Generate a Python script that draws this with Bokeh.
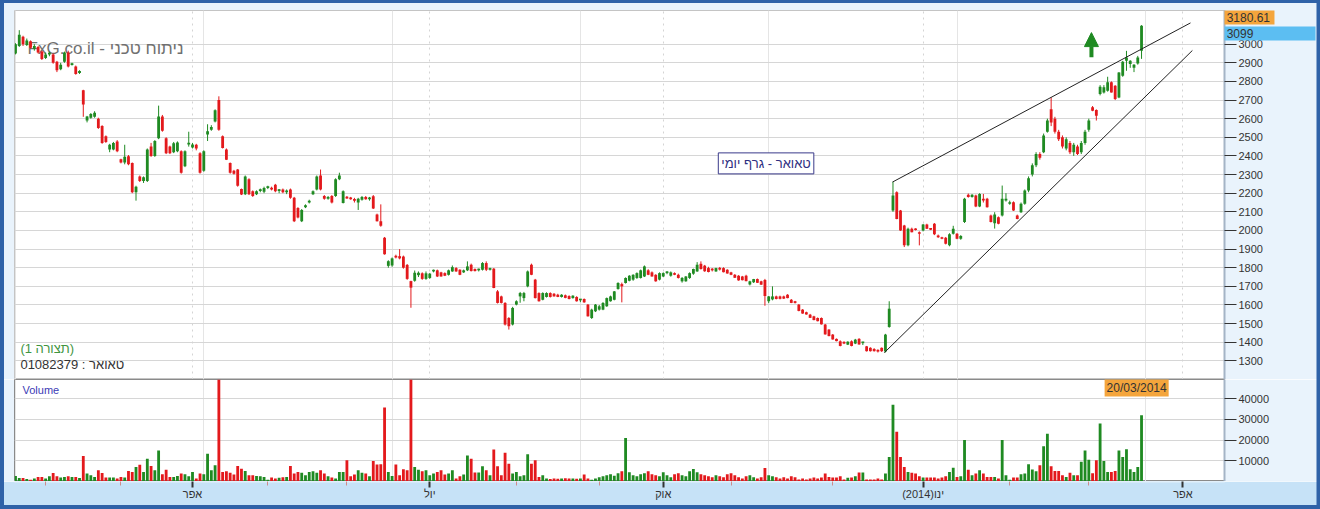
from bokeh.plotting import figure
from bokeh.layouts import column
from bokeh.models import (Range1d, FixedTicker, Grid, Label, Arrow, NormalHead, ColumnDataSource)
from bokeh.core.properties import value
from bokeh.embed import file_html
from bokeh.resources import INLINE

# ---------------- DATA (open, high, low, close) per period ----------------
seg_jan_feb = [
    (2950, 3005, 2945, 3000), (2990, 3075, 2985, 3050), (3040, 3045, 2990, 3000), (2995, 3030, 2990, 3020),
    (3015, 3020, 2975, 2980), (2975, 3000, 2965, 2990), (2985, 2990, 2950, 2955), (2960, 2965, 2915, 2920),
    (2925, 2955, 2920, 2945), (2945, 2960, 2935, 2950), (2945, 2950, 2895, 2900), (2905, 2910, 2850, 2860),
    (2865, 2900, 2860, 2890), (2905, 2960, 2900, 2955), (2955, 2965, 2875, 2880), (2888, 2900, 2885, 2898),
    (2880, 2885, 2836, 2840), (2845, 2860, 2840, 2856),
]
seg_feb_apr = [
    (2752, 2755, 2610, 2676), (2590, 2615, 2580, 2612), (2605, 2630, 2600, 2625), (2610, 2640, 2605, 2632),
    (2600, 2605, 2545, 2550), (2560, 2565, 2465, 2470), (2505, 2510, 2470, 2475), (2435, 2465, 2420, 2460),
    (2435, 2475, 2430, 2470), (2478, 2485, 2420, 2425), (2382, 2385, 2360, 2365), (2365, 2460, 2355, 2395),
    (2398, 2405, 2350, 2355), (2362, 2365, 2200, 2205), (2205, 2240, 2160, 2235), (2290, 2295, 2260, 2265),
    (2265, 2290, 2255, 2285), (2265, 2440, 2260, 2435), (2450, 2470, 2395, 2400), (2400, 2485, 2395, 2480),
    (2495, 2670, 2490, 2612), (2612, 2620, 2530, 2535), (2495, 2500, 2410, 2415), (2450, 2455, 2410, 2415),
    (2420, 2475, 2415, 2468), (2425, 2478, 2420, 2472), (2425, 2430, 2305, 2310), (2345, 2430, 2340, 2425),
    (2462, 2530, 2450, 2470), (2445, 2470, 2440, 2462), (2460, 2465, 2430, 2440), (2415, 2420, 2305, 2310),
    (2320, 2430, 2315, 2425), (2515, 2570, 2480, 2532), (2540, 2565, 2535, 2555), (2585, 2650, 2580, 2645),
    (2700, 2720, 2535, 2540),
]
seg_apr_jul = [
    (2505, 2510, 2440, 2443), (2434, 2440, 2378, 2380), (2362, 2365, 2305, 2310), (2320, 2325, 2300, 2305),
    (2327, 2330, 2235, 2240), (2222, 2225, 2190, 2193), (2195, 2295, 2190, 2290), (2275, 2280, 2190, 2195),
    (2210, 2215, 2180, 2185), (2195, 2215, 2190, 2210), (2212, 2225, 2205, 2220), (2208, 2235, 2200, 2228),
    (2228, 2240, 2222, 2236), (2228, 2235, 2215, 2220), (2245, 2250, 2205, 2210), (2212, 2222, 2200, 2216),
    (2220, 2225, 2200, 2205), (2205, 2220, 2195, 2215), (2220, 2225, 2170, 2175), (2175, 2180, 2045, 2050),
    (2120, 2125, 2065, 2070), (2050, 2115, 2045, 2110), (2125, 2140, 2120, 2135), (2150, 2165, 2145, 2160),
    (2195, 2215, 2190, 2210), (2220, 2295, 2215, 2290), (2295, 2327, 2215, 2220), (2185, 2190, 2165, 2170),
    (2170, 2185, 2165, 2180), (2185, 2190, 2145, 2150), (2185, 2280, 2180, 2275), (2275, 2310, 2270, 2295),
    (2148, 2215, 2145, 2211), (2180, 2185, 2170, 2172), (2175, 2180, 2165, 2168), (2168, 2175, 2150, 2160),
    (2150, 2175, 2110, 2170), (2165, 2185, 2160, 2180), (2180, 2185, 2165, 2168), (2168, 2180, 2160, 2175),
    (2184, 2190, 2115, 2118), (2086, 2090, 2048, 2050), (2050, 2140, 2020, 2025), (1961, 1965, 1870, 1872),
    (1810, 1840, 1800, 1835), (1812, 1855, 1805, 1850), (1862, 1870, 1850, 1855), (1862, 1900, 1845, 1850),
    (1860, 1865, 1795, 1800), (1815, 1820, 1735, 1740), (1728, 1730, 1585, 1693), (1730, 1785, 1725, 1773),
    (1760, 1780, 1750, 1773), (1770, 1775, 1735, 1740), (1740, 1780, 1735, 1770),
]
seg_jul_dec = [
    (1745, 1772, 1740, 1768), (1780, 1790, 1775, 1786), (1786, 1790, 1750, 1753), (1775, 1778, 1752, 1753),
    (1771, 1775, 1755, 1757), (1762, 1790, 1758, 1786), (1780, 1812, 1778, 1803), (1798, 1803, 1778, 1780),
    (1789, 1792, 1760, 1762), (1775, 1790, 1772, 1786), (1786, 1834, 1782, 1807), (1816, 1822, 1780, 1782),
    (1793, 1796, 1780, 1782), (1786, 1795, 1780, 1793), (1789, 1830, 1785, 1825), (1825, 1834, 1782, 1789),
    (1789, 1800, 1785, 1795), (1795, 1798, 1690, 1691), (1673, 1680, 1608, 1611), (1646, 1650, 1608, 1611),
    (1611, 1615, 1490, 1495), (1530, 1535, 1468, 1486), (1495, 1590, 1490, 1584), (1602, 1625, 1598, 1620),
    (1646, 1670, 1612, 1664), (1637, 1670, 1620, 1664), (1700, 1785, 1695, 1780), (1816, 1822, 1760, 1762),
    (1736, 1740, 1635, 1637), (1664, 1668, 1618, 1620), (1628, 1668, 1625, 1664), (1643, 1668, 1640, 1664),
    (1664, 1668, 1640, 1643), (1660, 1664, 1645, 1646), (1655, 1660, 1642, 1643), (1643, 1658, 1640, 1655),
    (1652, 1656, 1636, 1638), (1648, 1652, 1630, 1632), (1637, 1652, 1634, 1650), (1643, 1647, 1618, 1620),
    (1625, 1632, 1615, 1628), (1632, 1635, 1612, 1614), (1602, 1605, 1538, 1539), (1530, 1580, 1525, 1575),
    (1566, 1605, 1562, 1602), (1575, 1600, 1570, 1593), (1575, 1615, 1572, 1611), (1593, 1640, 1590, 1637),
    (1620, 1650, 1618, 1646), (1628, 1675, 1625, 1673), (1686, 1722, 1682, 1718), (1712, 1720, 1614, 1700),
    (1718, 1748, 1715, 1745), (1730, 1760, 1727, 1757), (1736, 1765, 1730, 1762), (1745, 1775, 1740, 1771),
    (1745, 1790, 1742, 1786), (1753, 1812, 1750, 1807), (1786, 1792, 1760, 1762), (1775, 1780, 1752, 1753),
    (1762, 1765, 1725, 1727), (1736, 1775, 1732, 1771), (1753, 1775, 1750, 1771), (1771, 1782, 1765, 1778),
    (1757, 1780, 1752, 1775), (1768, 1775, 1760, 1762), (1762, 1768, 1742, 1745), (1727, 1750, 1720, 1745),
    (1727, 1755, 1725, 1753), (1745, 1775, 1740, 1771), (1768, 1795, 1762, 1793), (1780, 1830, 1778, 1816),
    (1821, 1834, 1790, 1793), (1811, 1815, 1778, 1781), (1798, 1805, 1775, 1777), (1793, 1798, 1780, 1786),
    (1780, 1800, 1778, 1798), (1798, 1804, 1785, 1790), (1798, 1802, 1775, 1776), (1789, 1792, 1768, 1769),
    (1775, 1778, 1760, 1762), (1762, 1766, 1745, 1746), (1757, 1760, 1730, 1732), (1753, 1756, 1732, 1733),
    (1757, 1762, 1727, 1728), (1710, 1730, 1705, 1727), (1722, 1740, 1718, 1739), (1739, 1742, 1718, 1719),
    (1727, 1730, 1708, 1709), (1734, 1740, 1596, 1648), (1620, 1648, 1610, 1646), (1630, 1700, 1625, 1646),
    (1646, 1650, 1630, 1632), (1646, 1650, 1630, 1633), (1646, 1650, 1632, 1634), (1655, 1658, 1636, 1637),
    (1628, 1632, 1610, 1611), (1620, 1622, 1608, 1611), (1602, 1605, 1566, 1568), (1575, 1578, 1553, 1554),
    (1561, 1564, 1548, 1549), (1548, 1552, 1530, 1531), (1539, 1542, 1518, 1519), (1530, 1533, 1512, 1513),
    (1530, 1533, 1495, 1496), (1495, 1498, 1441, 1442), (1468, 1470, 1432, 1433), (1441, 1444, 1414, 1415),
    (1418, 1420, 1405, 1406), (1405, 1410, 1378, 1380), (1400, 1405, 1390, 1393), (1387, 1405, 1385, 1403),
    (1405, 1410, 1378, 1380), (1393, 1418, 1390, 1414), (1418, 1422, 1387, 1388), (1395, 1402, 1385, 1398),
    (1378, 1380, 1350, 1352), (1370, 1373, 1350, 1352), (1364, 1368, 1350, 1352), (1356, 1362, 1345, 1350),
    (1370, 1372, 1348, 1352), (1350, 1445, 1345, 1441), (1482, 1620, 1478, 1580),
]
seg_dec_mar = [
    (2107, 2262, 2100, 2188), (2205, 2210, 2060, 2062), (2107, 2110, 1998, 2000), (2027, 2030, 1911, 1920),
    (1920, 2015, 1915, 2009), (2009, 2015, 1990, 1991), (2009, 2012, 2000, 2002), (1991, 1995, 1920, 1982),
    (2000, 2035, 1995, 2032), (2032, 2036, 2008, 2009), (2009, 2012, 2002, 2004), (2036, 2040, 1975, 1979),
    (1973, 1978, 1960, 1964), (1964, 1966, 1953, 1955), (1961, 1965, 1925, 1929), (1920, 1985, 1915, 1979),
    (1982, 2025, 1978, 2009), (1982, 1986, 1953, 1955), (1955, 1975, 1950, 1970), (2045, 2175, 2040, 2170),
    (2191, 2198, 2176, 2179), (2179, 2195, 2176, 2191), (2187, 2192, 2125, 2129), (2129, 2200, 2125, 2196),
    (2170, 2196, 2150, 2161), (2170, 2175, 2123, 2125), (2080, 2085, 2043, 2045), (2039, 2098, 2010, 2086),
    (2071, 2075, 2033, 2036), (2080, 2241, 2075, 2170), (2161, 2200, 2155, 2170), (2143, 2160, 2138, 2152),
    (2152, 2156, 2105, 2107), (2080, 2085, 2060, 2062), (2098, 2150, 2094, 2143), (2143, 2220, 2138, 2214),
    (2214, 2290, 2205, 2280), (2300, 2360, 2290, 2350), (2350, 2420, 2340, 2410), (2410, 2420, 2380, 2390),
    (2420, 2520, 2415, 2510), (2530, 2600, 2525, 2590), (2650, 2714, 2560, 2580), (2600, 2610, 2520, 2530),
    (2530, 2540, 2480, 2490), (2500, 2510, 2440, 2450), (2440, 2500, 2430, 2490), (2470, 2480, 2410, 2420),
    (2420, 2470, 2400, 2460), (2450, 2460, 2405, 2410), (2420, 2480, 2410, 2470), (2470, 2540, 2460, 2530),
    (2540, 2600, 2530, 2590), (2661, 2668, 2640, 2643), (2646, 2650, 2590, 2616), (2732, 2780, 2725, 2771),
    (2741, 2780, 2735, 2768), (2750, 2825, 2745, 2795), (2795, 2800, 2740, 2741), (2777, 2780, 2700, 2705),
    (2714, 2850, 2710, 2848), (2830, 2910, 2825, 2905), (2911, 2964, 2857, 2928), (2893, 2914, 2873, 2911),
    (2873, 2893, 2850, 2889), (2896, 2937, 2890, 2928), (2964, 3102, 2921, 3099),
]

vol_jan_feb = [2700, 1700, 1700, 1200, 900, 1400, 2200, 2200, 1400, 2500, 4100, 2500, 1900, 2200, 2500, 2200, 2200, 1700]
vol_feb_apr = [12300, 3800, 3000, 2200, 5400, 4100, 1900, 1900, 1900, 1400,
               2200, 1900, 5100, 4600, 7000, 8100, 4600, 11000, 7500, 5400,
               15000, 3500, 5700, 2200, 2200, 2700, 3800, 3500, 2500, 4600,
               1400, 3800, 3500, 13400, 5400, 7800, 60000]
vol_apr_jul = [4600, 5000, 4200, 3400, 7500, 6200, 5100, 3000, 3000, 2700,
               2500, 2200, 900, 1900, 1400, 1800, 2000, 2200, 7500, 3800,
               4600, 4200, 3000, 4600, 5000, 4200, 5400, 3800, 2500, 1900,
               1400, 4600, 4600, 10200, 2500, 3400, 5400, 4200, 3800, 2500,
               9900, 8200, 8300, 35700, 4600, 2700, 8200, 3000, 5900, 5400,
               60000, 7000, 5700, 4900, 5400]
vol_jul_dec = [3000, 3800, 4600, 5400, 3400, 3800, 5400, 1400, 2500, 3400,
               12600, 11000, 4300, 4300, 7400, 5400, 3000, 15400, 7400, 3000,
               13900, 8600, 3800, 4600, 2500, 3000, 13100, 8600, 10200, 2200,
               3000, 1400, 1200, 1500, 1300, 1400, 1600, 1400, 1500, 1300,
               1400, 3400, 1400, 900, 1400, 2000,
               2500, 3000, 3500, 2800, 4000, 5000, 21000, 4500, 3000, 2500,
               3500, 4000, 5000, 3500, 3000, 2500, 4500, 3000, 2000, 3500,
               4000, 3000, 2500, 5000, 6000, 4500, 3500, 3000, 2500, 2000,
               3000, 2500, 2000, 3500, 4000, 3000, 2000, 1500, 2500, 3000,
               2000, 1500, 2000, 6500, 3000, 2500, 2000, 1500, 2000, 1500,
               2500, 2000,
               1000, 1400, 1000, 1400, 1900, 1400, 1900, 3800, 2200, 1900,
               1900, 2500, 1000, 1800, 1900, 2500, 4300, 4300, 1000, 1000,
               1000, 1500, 1000, 3800, 11800]
vol_dec_mar = [37000, 24000, 11800, 7000, 4600, 4200, 3800, 2500, 1900, 1900,
               1900, 1900, 1400, 1900, 2500, 4600, 6600, 2200, 2500, 20000,
               5700, 3000, 3800, 5400, 3800, 2200, 2200, 2200, 1400, 20000,
               3000, 900, 1900, 1900, 3500, 3800, 8300, 5800, 5000, 7800,
               17000, 23000, 7400, 5100, 5100, 3000, 2200, 4200, 3000, 3000,
               9500, 15000, 10500, 4000, 10200, 28000, 9900, 4600, 4600, 5100,
               15000, 11800, 15500, 5900, 4600, 7000, 32000]

# month ticks on the trading-day index
major_ticks = [47, 110, 172, 241, 310]
major_labels = ["אפר", "יול", "אוק", "(2014)ינו", "אפר"]
minor_ticks = [8, 28, 67, 88, 133, 155, 190, 217, 264, 285]
price_ticks = list(range(1200, 3001, 100))
volume_ticks = [0, 10000, 20000, 30000, 40000]

# trend lines (index, price)
upper_line_x = [232.9, 312.0]
upper_line_y = [2260, 3114]
lower_line_x = [230.7, 312.5]
lower_line_y = [1344, 2966]

price_top = 3180.61
last_close = 3099
last_date = "20/03/2014"

# ---------------- BUILD ----------------
GREEN = "#1f8a22"
RED = "#e3191c"
FRAME = "#2f62a8"
FONT = "Liberation Sans"

candles = seg_jan_feb + seg_feb_apr + seg_apr_jul + seg_jul_dec + seg_dec_mar
vols = vol_jan_feb + vol_feb_apr + vol_apr_jul + vol_jul_dec + vol_dec_mar
n = len(candles)
xs = list(range(n))
o = [c[0] for c in candles]
h = [c[1] for c in candles]
l = [c[2] for c in candles]
cl = [c[3] for c in candles]
cols = [GREEN if cc >= oo else RED for oo, cc in zip(o, cl)]
bbot = [min(a, b) for a, b in zip(o, cl)]
btop = [max(max(a, b), min(a, b) + 9) for a, b in zip(o, cl)]
src = ColumnDataSource(dict(x=xs, o=o, h=h, l=l, c=cl, col=cols, bt=btop, bb=bbot, vol=vols[:n]))

X0, X1 = -0.266, 321.03
PX = (X1 - X0) / 1210.0          # index units per screen pixel
xr = Range1d(X0, X1)
W = 1320
common = dict(width=W, x_range=xr, output_backend="svg", toolbar_location=None,
              min_border_left=14, min_border_right=96)


def page_x(px):
    return X0 + (px - 14) * PX


def frame_edges(fig, y_lo, y_hi, top=None, bottom=None):
    """dark blue window frame drawn in the figure's margins"""
    lefts = [page_x(-2), page_x(1316)]
    rights = [page_x(3.5), page_x(1322)]
    tops = [y_hi, y_hi]
    bottoms = [y_lo, y_lo]
    if top is not None:
        lefts.append(page_x(-2)); rights.append(page_x(1322)); tops.append(y_hi); bottoms.append(top)
    if bottom is not None:
        lefts.append(page_x(-2)); rights.append(page_x(1322)); tops.append(bottom); bottoms.append(y_lo)
    r = fig.quad(left=lefts, right=rights, top=tops, bottom=bottoms, fill_color=FRAME, line_color=None)
    r.level = "overlay"


# ---------- price panel ----------
p = figure(height=379, y_range=Range1d(1200, price_top), x_axis_location=None, y_axis_location="right",
           min_border_top=10, min_border_bottom=0, background_fill_color="white",
           border_fill_color="#e9f3fc", outline_line_color="#c4c4c4", **common)
p.yaxis.ticker = FixedTicker(ticks=price_ticks)
p.yaxis.major_label_overrides = {1200: ""}
p.yaxis.major_tick_out = 12
p.yaxis.major_tick_in = 0
p.yaxis.minor_tick_line_color = None
p.yaxis.major_tick_line_color = "#333333"
p.yaxis.axis_line_color = "#a4b4c6"
p.yaxis.axis_line_width = 2
p.yaxis.major_label_text_font = FONT
p.yaxis.major_label_text_font_size = "11px"
p.yaxis.major_label_text_color = "#333333"
p.yaxis.major_label_standoff = 2
p.ygrid.ticker = FixedTicker(ticks=price_ticks)
p.ygrid.grid_line_color = "#d6d6d6"
p.add_layout(Grid(dimension=0, ticker=FixedTicker(ticks=major_ticks), grid_line_color="#d4d4d4",
                  grid_line_dash="dotted"))

wm = Label(x=3.2, y=2979, text="FxG.co.il - ניתוח טכני", text_font=FONT, text_font_size="17px",
           text_color="#707070", text_baseline="middle", level="underlay")
p.add_layout(wm)

p.segment(x0="x", y0="l", x1="x", y1="h", line_color="col", line_width=1, source=src)
p.vbar(x="x", top="bt", bottom="bb", width=0.75, fill_color="col", line_color=None, source=src)

p.line(upper_line_x, upper_line_y, line_color="#222222", line_width=1)
p.line(lower_line_x, lower_line_y, line_color="#222222", line_width=1)

p.add_layout(Arrow(end=NormalHead(size=14, fill_color=GREEN, line_color=GREEN),
                   x_start=285.7, y_start=2930, x_end=285.7, y_end=3062,
                   line_color=GREEN, line_width=4))

p.add_layout(Label(x=199.3, y=2360, text="טאואר - גרף יומי", text_font=FONT, text_font_size="13px",
                   text_color="#2e2e80", text_align="center", text_baseline="middle",
                   background_fill_color="white", border_line_color="#3a3a8a", border_line_width=1,
                   padding=3))
p.add_layout(Label(x=1.3, y=1366, text="(1 תצורה)", text_font=FONT, text_font_size="13px",
                   text_color="#3f953f", text_baseline="middle"))
p.add_layout(Label(x=1.3, y=1278, text="01082379 : טאואר", text_font=FONT, text_font_size="13px",
                   text_color="#333333", text_baseline="middle"))

# value tags beside the price axis (top of scale and last close)
tag_left = [X1, X1]
tag_right = [334.3, 345.2]
tag_top = [price_top, 3094.8]
tag_bottom = [3105.5, 3019.7]
tag_colors = ["#f4a53c", "#5cbef2"]
rq = p.quad(left=tag_left, right=tag_right, top=tag_top, bottom=tag_bottom,
            fill_color=tag_colors, line_color=None)
rq.level = "overlay"
rt = p.text(x=[321.6, 321.6], y=[3143, 3057], text=[f"{price_top:.2f}", f"{last_close}"],
            text_font=value(FONT), text_font_size="12px", text_color="#333333", text_baseline="middle")
rt.level = "overlay"
# window frame: price panel spans page y 0..379 -> price 3234..1200 (0.18646 px per unit)
frame_edges(p, 1150, 3260, top=price_top + 7.5 / 0.18646)

# ---------- volume panel ----------
v = figure(height=102, y_range=Range1d(0, 49200), x_axis_location=None, y_axis_location="right",
           min_border_top=0, min_border_bottom=0, background_fill_color="white",
           border_fill_color="#e9f3fc", outline_line_color="#8a8a8a", **common)
v.yaxis.ticker = FixedTicker(ticks=volume_ticks)
v.yaxis.major_label_overrides = {0: "", 10000: "10000", 20000: "20000", 30000: "30000", 40000: "40000"}
v.yaxis.major_tick_out = 12
v.yaxis.major_tick_in = 0
v.yaxis.minor_tick_line_color = None
v.yaxis.major_tick_line_color = "#333333"
v.yaxis.axis_line_color = "#a4b4c6"
v.yaxis.axis_line_width = 2
v.yaxis.major_label_text_font = FONT
v.yaxis.major_label_text_font_size = "11px"
v.yaxis.major_label_text_color = "#333333"
v.yaxis.major_label_standoff = 2
v.ygrid.ticker = FixedTicker(ticks=volume_ticks)
v.ygrid.grid_line_color = "#d6d6d6"
v.vbar(x="x", top="vol", width=0.75, fill_color="col", line_color=None, source=src)
v.add_layout(Label(x=1.86, y=43900, text="Volume", text_font=FONT, text_font_size="11px",
                   text_color="#3b3bb5", text_baseline="middle"))
v.add_layout(Label(x=297.7, y=45300, text=last_date, text_font=FONT, text_font_size="12px",
                   text_color="#333333", text_align="center", text_baseline="middle",
                   background_fill_color="#f4a53c", padding=2))
frame_edges(v, -5000, 60000)

# ---------- date axis strip ----------
a = figure(height=28, y_range=Range1d(0, 1), x_axis_location="below", y_axis_location=None,
           min_border_top=0, min_border_bottom=27, background_fill_color="#c6e2f7",
           border_fill_color="#c6e2f7", outline_line_color=None, **common)
a.xgrid.visible = False
a.ygrid.visible = False
a.xaxis.ticker = FixedTicker(ticks=major_ticks, minor_ticks=minor_ticks)
a.xaxis.major_label_overrides = dict(zip(major_ticks, major_labels))
a.xaxis.axis_line_color = None
a.xaxis.major_tick_out = 5
a.xaxis.major_tick_in = 1
a.xaxis.major_tick_line_width = 2
a.xaxis.major_tick_line_color = "#333333"
a.xaxis.minor_tick_out = 3
a.xaxis.minor_tick_in = 1
a.xaxis.minor_tick_line_color = "#d08a8a"
a.xaxis.major_label_text_font = FONT
a.xaxis.major_label_text_font_size = "11px"
a.xaxis.major_label_text_color = "#333333"
a.xaxis.major_label_standoff = 0
# strip: 1 data unit = 1 px, y=0 at page 482
frame_edges(a, -40, 5, bottom=-22.5)

layout = column(p, v, a, spacing=0)
open("out.html", "w").write(file_html(layout, INLINE))
